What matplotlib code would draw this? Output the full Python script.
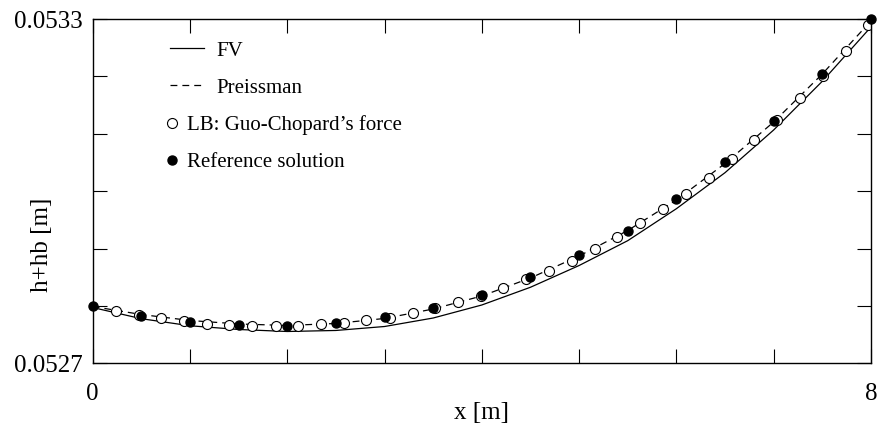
import numpy as np
import matplotlib
matplotlib.use("Agg")
import matplotlib.pyplot as plt

plt.rcParams['font.family'] = ['Liberation Serif', 'DejaVu Serif']

# reference solution and FV / Preissman sampled every 0.5 m
x_half = [0.0, 0.5, 1.0, 1.5, 2.0, 2.5, 3.0, 3.5, 4.0, 4.5, 5.0, 5.5, 6.0, 6.5, 7.0, 7.5, 8.0]
h_ref = [0.0528000, 0.0527830, 0.0527715, 0.0527667, 0.0527650, 0.0527708, 0.0527802, 0.0527959,
         0.0528190, 0.0528500, 0.0528890, 0.0529310, 0.0529870, 0.0530500, 0.0531220, 0.0532050, 0.0533000]
h_fv = [0.0527972, 0.0527777, 0.0527654, 0.0527589, 0.0527554, 0.0527572, 0.0527641, 0.0527789,
        0.0528016, 0.0528325, 0.0528704, 0.0529137, 0.0529694, 0.0530322, 0.0531066, 0.0531915, 0.0532861]
h_preiss = [0.0527990, 0.0527850, 0.0527746, 0.0527685, 0.0527659, 0.0527694, 0.0527781, 0.0527946,
            0.0528173, 0.0528487, 0.0528870, 0.0529314, 0.0529846, 0.0530482, 0.0531205, 0.0532042, 0.0532966]

# LB (Guo-Chopard force) output points
x_lb = [0.236, 0.476, 0.702, 0.938, 1.172, 1.404, 1.640, 1.884, 2.113, 2.343, 2.586, 2.809,
        3.056, 3.289, 3.518, 3.751, 3.991, 4.220, 4.453, 4.690, 4.923, 5.162, 5.392, 5.630,
        5.864, 6.095, 6.334, 6.567, 6.800, 7.036, 7.269, 7.503, 7.739, 7.971]
h_lb = [0.0527911, 0.0527842, 0.0527784, 0.0527732, 0.0527690, 0.0527667, 0.0527645, 0.0527655,
        0.0527650, 0.0527680, 0.0527708, 0.0527749, 0.0527795, 0.0527882, 0.0527959, 0.0528063,
        0.0528178, 0.0528307, 0.0528464, 0.0528614, 0.0528788, 0.0528992, 0.0529206, 0.0529445,
        0.0529684, 0.0529956, 0.0530235, 0.0530555, 0.0530892, 0.0531240, 0.0531618, 0.0532012,
        0.0532437, 0.0532896]

fig = plt.figure(figsize=(8.81, 4.28), dpi=100)
ax = fig.add_axes([0.1052, 0.1512, 0.8834, 0.8044])

l_fv, = ax.plot(x_half, h_fv, '-', color='black', lw=0.9, label='FV')
l_pr, = ax.plot(x_half, h_preiss, '--', color='black', lw=0.9, dashes=(5.5, 4.0), label='Preissman')
m_lb, = ax.plot(x_lb, h_lb, 'o', mfc='white', mec='black', ms=7.2, mew=0.8,
                label='LB: Guo-Chopard\u2019s force')
m_ref, = ax.plot(x_half, h_ref, 'o', color='black', ms=6.5, label='Reference solution',
                 clip_on=False, zorder=5)

ax.set_xlim(0, 8)
ax.set_ylim(0.0527, 0.0533)
ax.set_xticks(np.arange(0, 9))
ax.set_xticklabels(['0', '', '', '', '', '', '', '', '8'])
yt = np.linspace(0.0527, 0.0533, 7)
ax.set_yticks(yt)
ax.set_yticklabels(['0.0527', '', '', '', '', '', '0.0533'])
ax.tick_params(direction='in', length=10, width=0.8, top=True, right=True,
               labelsize=18, pad=7)
ax.tick_params(axis='x', pad=14)
for s in ax.spines.values():
    s.set_linewidth(1.0)

ax.set_xlabel('x [m]', fontsize=18, labelpad=-2)
ax.set_ylabel('h+hb [m]', fontsize=18)
ax.yaxis.set_label_coords(-0.051, 0.345)

leg1 = ax.legend(handles=[l_fv, l_pr], loc='upper left', frameon=False, fontsize=15,
                 handlelength=1.65, handletextpad=0.62, labelspacing=0.84,
                 bbox_to_anchor=(0.088, 0.96), borderaxespad=0)
ax.add_artist(leg1)
ax.legend(handles=[m_lb, m_ref], loc='upper left', frameon=False, fontsize=15,
          handlelength=0.3, handletextpad=0.6, labelspacing=0.84,
          bbox_to_anchor=(0.087, 0.745), borderaxespad=0)

fig.savefig('out.png', dpi=100)
